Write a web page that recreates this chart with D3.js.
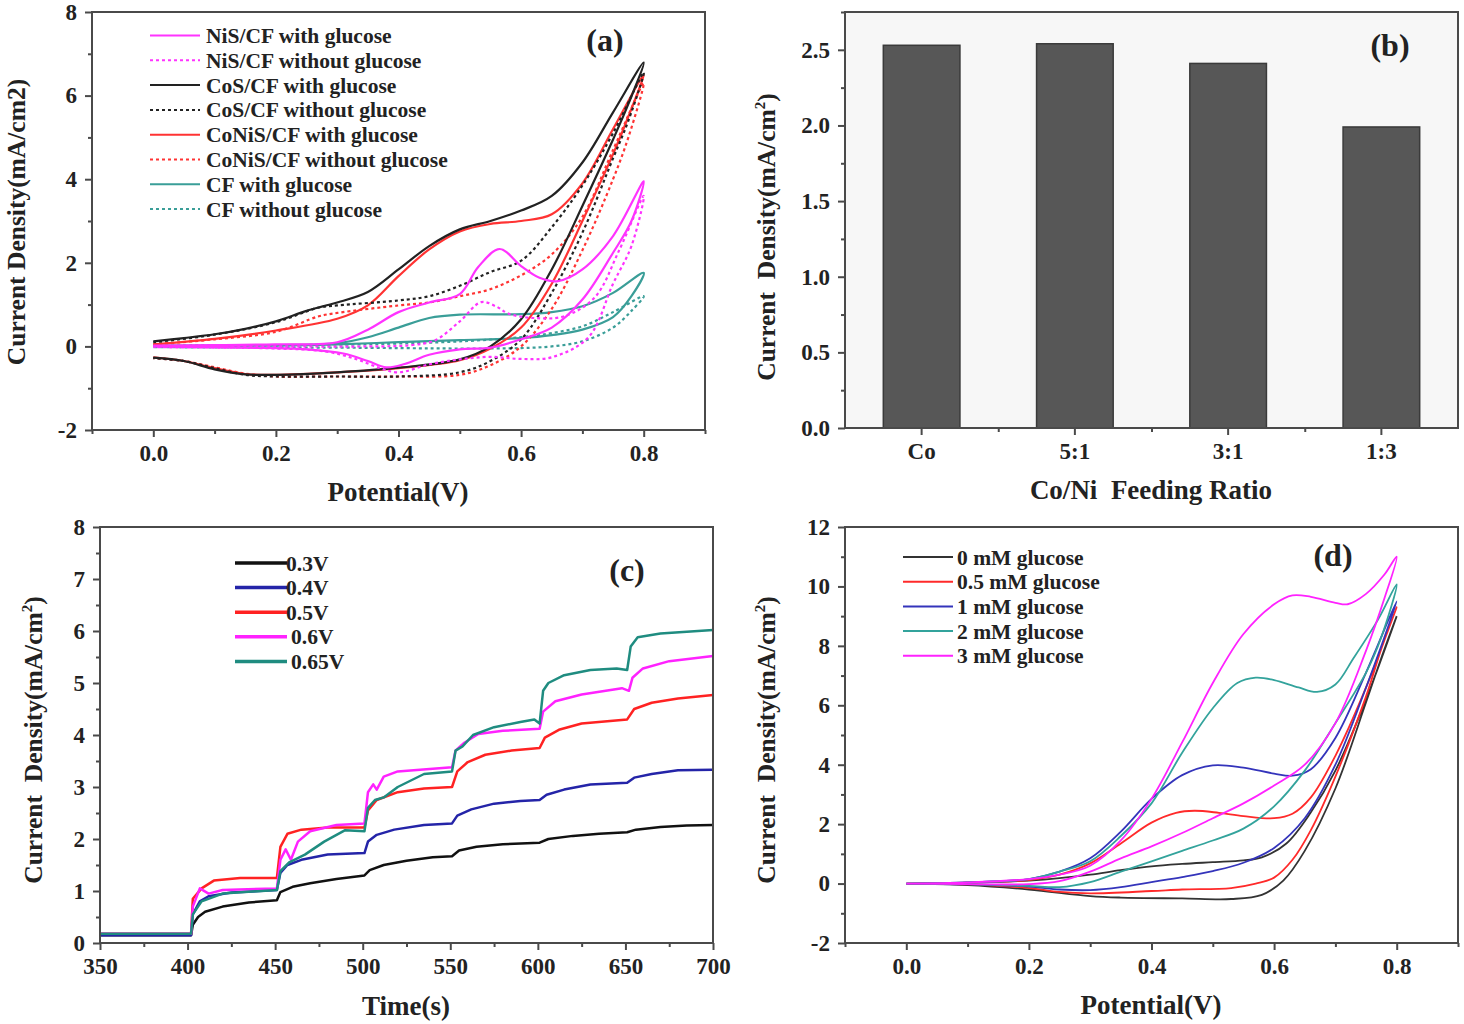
<!DOCTYPE html>
<html><head>
<meta charset="utf-8">
<script src="https://cdn.jsdelivr.net/npm/d3@7"></script>
<style>
body{margin:0;background:#fff;}
text{font-family:"Liberation Serif","Times New Roman",serif;font-weight:bold;fill:#222;}
.frame{fill:none;stroke:#4a4a4a;stroke-width:2px;}
.axis path{display:none;}
.axis line{stroke:#4a4a4a;stroke-width:2px;}
.axis text{font-family:"Liberation Serif","Times New Roman",serif;font-weight:bold;font-size:23px;fill:#222;}
.curve{fill:none;}
.title{font-size:27px;}
.ytitle{font-size:25.5px;}
.leg{font-size:21.5px;}
.tag{font-size:32px;}
</style>
<title>CoNiS/CF glucose</title>
</head>
<body>
<script>
var width = 1464,
    height = 1024;

// ---- (a) CV curves, [potential V, current mA/cm2], forward then reverse scan
var nisGlu = [[0,0.02],[0.1,0.03],[0.2,0.05],[0.3,0.1],[0.35,0.4],[0.4,0.82],[0.45,1.05],[0.5,1.25],[0.53,1.9],[0.565,2.33],[0.6,1.92],[0.63,1.64],[0.66,1.56],[0.7,1.84],[0.75,2.64],[0.8,3.95],
  [0.78,3.0],[0.75,2.24],[0.7,1.12],[0.65,0.45],[0.6,0.17],[0.55,-0.03],[0.5,-0.07],[0.45,-0.2],[0.41,-0.42],[0.38,-0.5],[0.35,-0.35],[0.31,-0.17],[0.25,-0.07],[0.15,-0.03],[0,0]];
var nisNo = [[0,0],[0.2,0],[0.35,0],[0.42,0.03],[0.46,0.15],[0.5,0.6],[0.535,1.06],[0.56,0.95],[0.58,0.78],[0.62,0.68],[0.67,0.72],[0.72,1.17],[0.76,2.3],[0.8,3.6],
  [0.78,2.4],[0.75,1.5],[0.71,0.22],[0.65,-0.26],[0.6,-0.3],[0.55,-0.25],[0.5,-0.31],[0.45,-0.43],[0.4,-0.62],[0.37,-0.52],[0.33,-0.3],[0.28,-0.12],[0.2,-0.05],[0,-0.02]];
var cosGlu = [[0,0.12],[0.05,0.2],[0.1,0.29],[0.15,0.42],[0.2,0.6],[0.25,0.85],[0.28,0.97],[0.3,1.05],[0.35,1.3],[0.4,1.84],[0.45,2.4],[0.5,2.8],[0.55,3.0],[0.6,3.25],[0.65,3.6],[0.7,4.4],[0.75,5.6],[0.8,6.79],
  [0.775,5.8],[0.75,4.95],[0.7,3.36],[0.65,1.84],[0.6,0.65],[0.55,0],[0.5,-0.31],[0.4,-0.51],[0.3,-0.62],[0.2,-0.68],[0.15,-0.67],[0.1,-0.55],[0.05,-0.35],[0,-0.27]];
var cosNo = [[0,0.1],[0.1,0.28],[0.2,0.58],[0.27,0.93],[0.3,0.98],[0.4,1.1],[0.45,1.2],[0.5,1.45],[0.55,1.78],[0.6,2.05],[0.65,2.85],[0.7,3.85],[0.75,5.1],[0.8,6.55],
  [0.775,5.4],[0.75,4.5],[0.7,2.72],[0.65,1.28],[0.6,0.17],[0.55,-0.35],[0.5,-0.62],[0.4,-0.72],[0.3,-0.72],[0.2,-0.72],[0.15,-0.68],[0.1,-0.52],[0.05,-0.35],[0,-0.28]];
var conisGlu = [[0,0.05],[0.1,0.18],[0.2,0.38],[0.3,0.66],[0.35,0.98],[0.4,1.68],[0.45,2.32],[0.5,2.75],[0.55,2.93],[0.6,3.0],[0.65,3.16],[0.7,3.9],[0.75,5.2],[0.8,6.5],
  [0.775,5.5],[0.75,4.6],[0.7,3.0],[0.65,1.5],[0.6,0.45],[0.55,-0.05],[0.5,-0.33],[0.4,-0.52],[0.3,-0.62],[0.2,-0.68],[0.15,-0.66],[0.1,-0.52],[0.05,-0.35],[0,-0.26]];
var conisNo = [[0,0.05],[0.1,0.17],[0.2,0.35],[0.27,0.72],[0.3,0.8],[0.4,0.98],[0.45,1.05],[0.5,1.2],[0.55,1.37],[0.6,1.7],[0.65,2.2],[0.7,3.1],[0.75,4.7],[0.8,6.3],
  [0.775,5.0],[0.75,4.0],[0.7,2.3],[0.65,0.9],[0.6,0],[0.55,-0.45],[0.5,-0.68],[0.4,-0.72],[0.3,-0.72],[0.2,-0.72],[0.15,-0.65],[0.1,-0.5],[0.05,-0.35],[0,-0.28]];
var cfGlu = [[0,0.02],[0.2,0.03],[0.3,0.08],[0.35,0.22],[0.4,0.45],[0.45,0.68],[0.5,0.76],[0.6,0.77],[0.65,0.82],[0.7,0.96],[0.75,1.28],[0.8,1.76],
  [0.78,1.2],[0.75,0.7],[0.7,0.4],[0.65,0.27],[0.6,0.2],[0.5,0.15],[0.4,0.1],[0.3,0.05],[0.2,0.02],[0,0]];
var cfNo = [[0,0.02],[0.3,0.04],[0.4,0.07],[0.5,0.12],[0.6,0.22],[0.65,0.32],[0.7,0.48],[0.75,0.82],[0.8,1.2],
  [0.78,0.85],[0.75,0.45],[0.7,0.12],[0.65,0],[0.6,-0.04],[0.5,-0.05],[0.3,-0.03],[0,-0.02]];
var legendA = ["NiS/CF with glucose","NiS/CF without glucose","CoS/CF with glucose","CoS/CF without glucose",
  "CoNiS/CF with glucose","CoNiS/CF without glucose","CF with glucose","CF without glucose"];

// ---- (b) bars
var ratios = ["Co","5:1","3:1","1:3"];
var ratioJ = [2.53,2.54,2.41,1.99];

// ---- (c) chronoamperometry, [time s, current mA/cm2]
var c03 = [[350,0.15],[402,0.15],[403,0.35],[406,0.5],[410,0.6],[420,0.7],[435,0.78],[451,0.82],[453,0.98],[460,1.08],[470,1.15],[485,1.23],[501,1.3],[504,1.4],[512,1.5],[525,1.58],[540,1.65],[551,1.67],[555,1.78],[565,1.85],[580,1.9],[601,1.93],[606,2.0],[620,2.06],[635,2.1],[651,2.13],[656,2.18],[670,2.23],[685,2.26],[700,2.27]];
var c04 = [[350,0.15],[402,0.15],[403,0.55],[407,0.8],[412,0.9],[425,0.97],[451,1.02],[453,1.35],[457,1.5],[465,1.6],[480,1.7],[501,1.73],[503,1.95],[508,2.08],[518,2.18],[535,2.27],[551,2.3],[554,2.45],[562,2.57],[575,2.68],[590,2.73],[601,2.75],[605,2.85],[615,2.95],[630,3.05],[651,3.08],[655,3.18],[665,3.25],[680,3.32],[700,3.33]];
var c05 = [[350,0.18],[402,0.18],[403,0.85],[408,1.05],[415,1.2],[430,1.25],[451,1.25],[453,1.85],[457,2.1],[465,2.18],[480,2.22],[501,2.22],[503,2.55],[508,2.75],[520,2.9],[535,2.97],[551,3.0],[554,3.3],[560,3.48],[570,3.62],[585,3.7],[601,3.75],[604,3.95],[612,4.1],[625,4.22],[651,4.3],[655,4.5],[665,4.62],[680,4.7],[700,4.77]];
var c06 = [[350,0.18],[402,0.18],[403,0.7],[407,1.05],[412,0.95],[420,1.02],[451,1.05],[453,1.6],[456,1.8],[459,1.6],[463,1.95],[470,2.15],[485,2.27],[501,2.3],[503,2.9],[506,3.05],[508,2.95],[512,3.2],[520,3.3],[551,3.38],[553,3.7],[558,3.85],[566,4.02],[580,4.08],[601,4.12],[603,4.45],[610,4.65],[625,4.78],[648,4.9],[652,4.85],[654,5.1],[660,5.28],[675,5.42],[700,5.52]];
var c065 = [[350,0.18],[402,0.18],[403,0.55],[408,0.8],[420,0.95],[451,1.02],[453,1.38],[458,1.55],[467,1.7],[478,1.95],[490,2.17],[501,2.15],[503,2.6],[507,2.75],[512,2.8],[520,3.0],[535,3.25],[551,3.3],[553,3.7],[557,3.78],[563,4.0],[575,4.15],[590,4.25],[598,4.3],[601,4.22],[603,4.85],[606,5.0],[615,5.15],[630,5.25],[645,5.28],[651,5.25],[653,5.7],[657,5.88],[670,5.95],[700,6.02]];
var legendC = ["0.3V","0.4V","0.5V","0.6V","0.65V"];

// ---- (d) CV at different glucose concentrations
var d0 = [[0,0],[0.1,0.03],[0.2,0.1],[0.25,0.18],[0.3,0.3],[0.35,0.45],[0.4,0.58],[0.45,0.66],[0.5,0.72],[0.55,0.78],[0.58,0.88],[0.62,1.35],[0.66,2.4],[0.7,3.8],[0.75,6.2],[0.8,9.0],
  [0.775,7.6],[0.75,6.1],[0.7,3.2],[0.65,1.1],[0.615,0.1],[0.58,-0.38],[0.53,-0.52],[0.45,-0.5],[0.35,-0.47],[0.3,-0.42],[0.2,-0.2],[0.1,-0.05],[0,0]];
var d05 = [[0,0],[0.1,0.03],[0.2,0.12],[0.25,0.3],[0.3,0.68],[0.35,1.35],[0.4,2.05],[0.44,2.38],[0.47,2.45],[0.51,2.38],[0.55,2.27],[0.6,2.2],[0.63,2.35],[0.66,2.9],[0.7,4.3],[0.75,6.6],[0.8,9.3],
  [0.775,7.9],[0.75,6.3],[0.7,3.6],[0.66,1.8],[0.63,0.8],[0.6,0.2],[0.57,0],[0.53,-0.15],[0.45,-0.2],[0.4,-0.25],[0.3,-0.33],[0.25,-0.28],[0.2,-0.15],[0.1,-0.03],[0,0]];
var d1 = [[0,0],[0.1,0.04],[0.2,0.15],[0.25,0.4],[0.3,0.85],[0.35,1.75],[0.4,2.85],[0.45,3.65],[0.5,3.98],[0.55,3.9],[0.6,3.7],[0.63,3.63],[0.66,3.85],[0.7,4.9],[0.75,7.1],[0.8,9.5],
  [0.775,8.0],[0.75,6.6],[0.7,4.0],[0.65,2.2],[0.6,1.2],[0.55,0.7],[0.5,0.42],[0.45,0.22],[0.4,0.05],[0.35,-0.12],[0.3,-0.22],[0.25,-0.2],[0.2,-0.1],[0.1,-0.03],[0,0]];
var d2 = [[0,0],[0.1,0.04],[0.2,0.15],[0.25,0.4],[0.3,0.75],[0.35,1.6],[0.4,2.7],[0.45,4.4],[0.5,5.9],[0.54,6.75],[0.57,6.93],[0.6,6.85],[0.64,6.6],[0.67,6.45],[0.7,6.7],[0.73,7.6],[0.77,8.9],[0.8,10.07],
  [0.775,8.3],[0.75,7.1],[0.7,5.4],[0.65,3.8],[0.6,2.6],[0.55,1.85],[0.5,1.45],[0.45,1.1],[0.4,0.75],[0.35,0.4],[0.3,0.05],[0.25,-0.12],[0.2,-0.08],[0.1,-0.02],[0,0]];
var d3c = [[0,0],[0.1,0.04],[0.2,0.15],[0.25,0.3],[0.3,0.6],[0.35,1.45],[0.4,2.85],[0.45,4.75],[0.5,6.75],[0.55,8.4],[0.6,9.4],[0.63,9.7],[0.66,9.65],[0.7,9.45],[0.72,9.4],[0.75,9.75],[0.78,10.4],[0.8,11.0],
  [0.78,9.6],[0.75,7.84],[0.7,5.4],[0.65,4.0],[0.6,3.3],[0.55,2.7],[0.5,2.2],[0.45,1.7],[0.4,1.25],[0.35,0.85],[0.3,0.4],[0.25,0.08],[0.2,-0.02],[0.1,-0.02],[0,0]];
var legendD = ["0 mM glucose","0.5 mM glucose","1 mM glucose","2 mM glucose","3 mM glucose"];

var svg = d3.select("body").append("svg")
    .attr("width", width)
    .attr("height", height);

function frame(box){
  svg.append("rect").attr("class","frame")
    .attr("x", box.l).attr("y", box.t)
    .attr("width", box.r-box.l).attr("height", box.b-box.t);
}

function xAxis(scale, y, major, minor, fmt){
  svg.append("g").attr("class","axis").attr("transform","translate(0,"+y+")")
    .call(d3.axisBottom(scale).tickValues(minor).tickSize(4).tickFormat(""));
  svg.append("g").attr("class","axis").attr("transform","translate(0,"+y+")")
    .call(d3.axisBottom(scale).tickValues(major).tickSize(7).tickPadding(8).tickFormat(fmt));
}
function yAxis(scale, x, major, minor, fmt){
  svg.append("g").attr("class","axis").attr("transform","translate("+x+",0)")
    .call(d3.axisLeft(scale).tickValues(minor).tickSize(4).tickFormat(""));
  svg.append("g").attr("class","axis").attr("transform","translate("+x+",0)")
    .call(d3.axisLeft(scale).tickValues(major).tickSize(7).tickPadding(8).tickFormat(fmt));
}

function yTitle(x, y, sup){
  var t = svg.append("text").attr("class","ytitle")
    .attr("transform","translate("+x+","+y+") rotate(-90)")
    .attr("text-anchor","middle").attr("dy","0.35em")
    .style("white-space","pre");
  if(sup){
    t.append("tspan").text("Current  Density(mA/cm");
    t.append("tspan").attr("dy",-10).style("font-size","15px").text("2");
    t.append("tspan").attr("dy",10).text(")");
  } else {
    t.text("Current Density(mA/cm2)");
  }
}
function xTitle(x, y, s){
  svg.append("text").attr("class","title").attr("x",x).attr("y",y)
    .attr("text-anchor","middle").attr("dy","0.35em")
    .style("white-space","pre").text(s);
}
function tag(x, y, s){
  svg.append("text").attr("class","tag").attr("x",x).attr("y",y)
    .attr("text-anchor","middle").attr("dy","0.35em").text(s);
}

var f1 = d3.format(".1f");
// plain hyphen for negatives, as in the original
var fi = function(d){ return String(d); };
var curve = d3.curveCatmullRom.alpha(0.5);

// ================= (a)
var A = {l:92, r:705, t:12, b:430};
var xa = d3.scaleLinear().domain([-0.1,0.9]).range([A.l,A.r]);
var ya = d3.scaleLinear().domain([-2,8]).range([A.b,A.t]);
var lineA = d3.line().x(function(d){return xa(d[0]);}).y(function(d){return ya(d[1]);}).curve(curve);

var seriesA = [
  {d:nisGlu, c:"#ff33ff", dash:null},
  {d:nisNo, c:"#ff33ff", dash:"3,3"},
  {d:cosGlu, c:"#222222", dash:null},
  {d:cosNo, c:"#222222", dash:"3,3"},
  {d:conisGlu, c:"#ff3333", dash:null},
  {d:conisNo, c:"#ff3333", dash:"3,3"},
  {d:cfGlu, c:"#3a9e98", dash:null},
  {d:cfNo, c:"#3a9e98", dash:"3,3"}
];
// draw later series first so the magenta stays on top like the original
seriesA.slice().reverse().forEach(function(s){
  svg.append("path").attr("class","curve").attr("d", lineA(s.d))
    .attr("stroke", s.c).attr("stroke-width", 2.2)
    .attr("stroke-dasharray", s.dash);
});
xAxis(xa, A.b, [0,0.2,0.4,0.6,0.8], [-0.1,0.1,0.3,0.5,0.7,0.9], f1);
yAxis(ya, A.l, [-2,0,2,4,6,8], [-1,1,3,5,7], fi);
frame(A);
seriesA.forEach(function(s,i){
  var yy = 35.5 + i*24.8;
  svg.append("line").attr("x1",150).attr("x2",200).attr("y1",yy).attr("y2",yy)
    .attr("stroke", s.c).attr("stroke-width",2).attr("stroke-dasharray", s.dash);
  svg.append("text").attr("class","leg").attr("x",206).attr("y",yy).attr("dy","0.35em").text(legendA[i]);
});
tag(605, 40, "(a)");
xTitle(398, 492, "Potential(V)");
yTitle(16, 222, false);

// ================= (b)
var B = {l:845, r:1458, t:12, b:428};
svg.append("rect").attr("x",B.l).attr("y",B.t).attr("width",B.r-B.l).attr("height",B.b-B.t).attr("fill","#f7f7f7");
var xb = d3.scaleBand().domain(ratios).range([B.l,B.r]).paddingInner(0.5).paddingOuter(0.25);
var xbi = d3.scaleLinear().domain([-0.5, ratios.length-0.5]).range([B.l,B.r]);
var yb = d3.scaleLinear().domain([0,2.75]).range([B.b,B.t]);
svg.selectAll(".bar").data(ratioJ).enter().append("rect").attr("class","bar")
  .attr("x", function(d,i){return xb(ratios[i]);})
  .attr("y", function(d){return yb(d);})
  .attr("width", xb.bandwidth())
  .attr("height", function(d){return yb(0)-yb(d);})
  .attr("fill","#575757").attr("stroke","#3a3a3a").attr("stroke-width",1.5);
svg.append("g").attr("class","axis").attr("transform","translate(0,"+B.b+")")
  .call(d3.axisBottom(xbi).tickValues([0.5,1.5,2.5]).tickSize(4).tickFormat(""));
svg.append("g").attr("class","axis").attr("transform","translate(0,"+B.b+")")
  .call(d3.axisBottom(xb).tickSize(7).tickPadding(8).tickSizeOuter(0));
yAxis(yb, B.l, [0,0.5,1,1.5,2,2.5], [0.25,0.75,1.25,1.75,2.25,2.75], f1);
frame(B);
tag(1390, 45, "(b)");
xTitle(1151, 490, "Co/Ni  Feeding Ratio");
yTitle(766, 237, true);

// ================= (c)
var C = {l:100, r:713, t:527, b:943};
var xc = d3.scaleLinear().domain([350,700]).range([C.l,C.r]);
var yc = d3.scaleLinear().domain([0,8]).range([C.b,C.t]);
var lineC = d3.line().x(function(d){return xc(d[0]);}).y(function(d){return yc(d[1]);});
var seriesC = [
  {d:c03, c:"#111111"},
  {d:c04, c:"#2424a8"},
  {d:c05, c:"#ff2222"},
  {d:c06, c:"#ff22ff"},
  {d:c065, c:"#1f8c80"}
];
seriesC.forEach(function(s){
  svg.append("path").attr("class","curve").attr("d", lineC(s.d))
    .attr("stroke", s.c).attr("stroke-width", 2.5).attr("stroke-linejoin","round");
});
xAxis(xc, C.b, d3.range(350,701,50), d3.range(375,700,50), fi);
yAxis(yc, C.l, d3.range(0,9,1), d3.range(0.5,8,1), fi);
frame(C);
seriesC.forEach(function(s,i){
  var yy = 563 + i*24.6;
  svg.append("line").attr("x1",235).attr("x2",287).attr("y1",yy).attr("y2",yy)
    .attr("stroke", s.c).attr("stroke-width",3.5);
  svg.append("text").attr("class","leg").attr("x", i<3 ? 286 : 291).attr("y",yy).attr("dy","0.35em").text(legendC[i]);
});
tag(627, 570, "(c)");
xTitle(406, 1006, "Time(s)");
yTitle(33, 740, true);

// ================= (d)
var D = {l:845, r:1458, t:527, b:943};
var xd = d3.scaleLinear().domain([-0.1,0.9]).range([D.l,D.r]);
var yd = d3.scaleLinear().domain([-2,12]).range([D.b,D.t]);
var lineD = d3.line().x(function(d){return xd(d[0]);}).y(function(d){return yd(d[1]);}).curve(curve);
var seriesD = [
  {d:d0, c:"#333333"},
  {d:d05, c:"#ff2a2a"},
  {d:d1, c:"#3434bb"},
  {d:d2, c:"#33a39c"},
  {d:d3c, c:"#ff22ff"}
];
seriesD.forEach(function(s){
  svg.append("path").attr("class","curve").attr("d", lineD(s.d))
    .attr("stroke", s.c).attr("stroke-width", 1.8);
});
xAxis(xd, D.b, [0,0.2,0.4,0.6,0.8], [-0.1,0.1,0.3,0.5,0.7,0.9], f1);
yAxis(yd, D.l, d3.range(-2,13,2), d3.range(-1,12,2), fi);
frame(D);
seriesD.forEach(function(s,i){
  var yy = 557 + i*24.7;
  svg.append("line").attr("x1",903).attr("x2",953).attr("y1",yy).attr("y2",yy)
    .attr("stroke", s.c).attr("stroke-width",2);
  svg.append("text").attr("class","leg").attr("x",957).attr("y",yy).attr("dy","0.35em").text(legendD[i]);
});
tag(1333, 555, "(d)");
xTitle(1151, 1005, "Potential(V)");
yTitle(766, 740, true);
</script>
</body></html>
